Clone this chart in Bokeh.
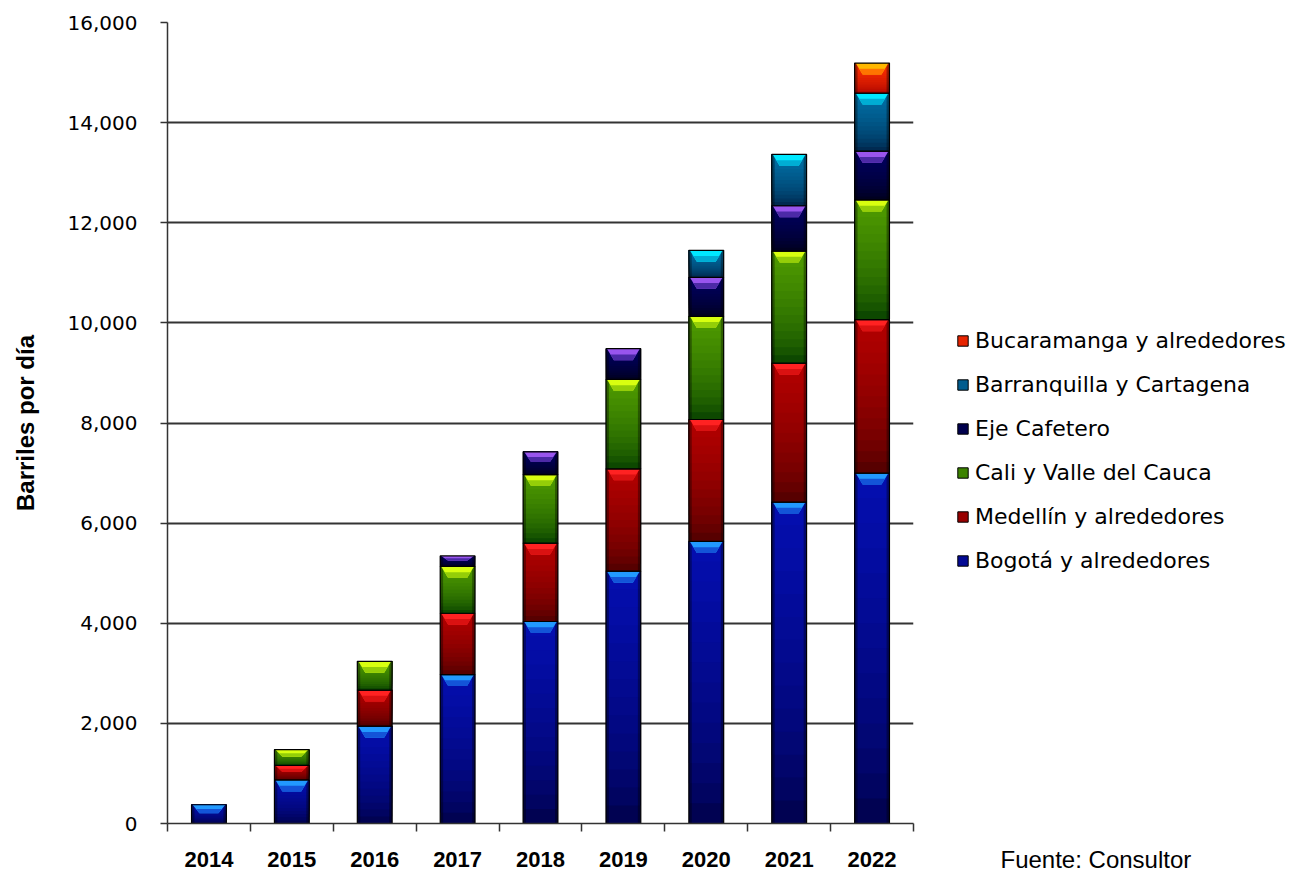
import numpy as np
from bokeh.plotting import figure
from bokeh.layouts import row
from bokeh.models import (FixedTicker, NumeralTickFormatter, Legend, LegendItem,
                          Label, ColumnDataSource, Range1d)
from bokeh.embed import file_html
from bokeh.resources import INLINE

# ---------------- data ----------------
years = ["2014", "2015", "2016", "2017", "2018", "2019", "2020", "2021", "2022"]
bogota       = [375, 870, 1945, 2975, 4035, 5040, 5635, 6420, 7000]
medellin     = [0, 290, 720, 1225, 1565, 2045, 2435, 2775, 3065]
cali         = [0, 315, 575, 935, 1370, 1785, 2060, 2240, 2390]
eje          = [0, 0, 0, 210, 455, 615, 780, 905, 975]
barranquilla = [0, 0, 0, 0, 0, 0, 540, 1025, 1160]
bucaramanga  = [0, 0, 0, 0, 0, 0, 0, 0, 600]

series_names = ["Bogotá y alrededores", "Medellín y alrededores", "Cali y Valle del Cauca",
                "Eje Cafetero", "Barranquilla y Cartagena", "Bucaramanga y alrededores"]
series_values = [bogota, medellin, cali, eje, barranquilla, bucaramanga]
y_ticks = list(range(0, 16001, 2000))
source_text = "Fuente: Consultor"

# (bottom colour, top colour, cap highlight colour)
series_colors = [
    ((0x00, 0x00, 0x40), (0x04, 0x0E, 0xB0), (0x22, 0x99, 0xFF)),
    ((0x45, 0x00, 0x00), (0xB4, 0x00, 0x00), (0xFF, 0x22, 0x22)),
    ((0x00, 0x38, 0x00), (0x50, 0x9C, 0x00), (0xD8, 0xFF, 0x10)),
    ((0x00, 0x00, 0x14), (0x00, 0x00, 0x60), (0x99, 0x55, 0xEE)),
    ((0x00, 0x1C, 0x40), (0x00, 0x72, 0xA8), (0x00, 0xE8, 0xFF)),
    ((0xA0, 0x00, 0x00), (0xFF, 0x30, 0x00), (0xFF, 0xB8, 0x00)),
]

def hexc(c):
    return "#%02x%02x%02x" % tuple(int(round(v)) for v in c)

def mix(a, b, t):
    return tuple(a[i] + (b[i] - a[i]) * t for i in range(3))

# ---------------- main figure ----------------
H = 875
PW = 930
p = figure(width=PW, height=H, output_backend="svg", toolbar_location=None,
           x_range=Range1d(0, 9), y_range=Range1d(0, 16000),
           min_border_left=167, min_border_right=17, min_border_top=22,
           min_border_bottom=52)
p.outline_line_color = None

xc = np.arange(len(years)) + 0.5
bw = 0.42
N = 14
edge = 0.035

bottoms = np.zeros(len(years))
for s, vals in enumerate(series_values):
    cb, ct, cl = series_colors[s]
    vals = np.array(vals, dtype=float)
    tops = bottoms + vals
    sx, st, sb, sc = [], [], [], []
    ox, ot, ob = [], [], []
    ex, cx, cy, cxs2, cys2 = [], [], [], [], []
    for i in range(len(years)):
        if vals[i] <= 0:
            continue
        b, t = bottoms[i], tops[i]
        for k in range(N):
            y0 = b + (t - b) * k / N
            f = ((k + 0.5) / N) ** 0.55
            sx.append(xc[i]); sb.append(y0); st.append(t); sc.append(hexc(mix(cb, ct, f)))
        ox.append(xc[i]); ob.append(b); ot.append(t)
        ex += [xc[i] - bw / 2 + edge / 2, xc[i] + bw / 2 - edge / 2]
        h = min(230.0, 0.45 * (t - b))
        x0, x1 = xc[i] - bw / 2 + 0.012, xc[i] + bw / 2 - 0.012
        ins = bw * 0.2
        cx.append([x0, x1, x1 - ins, x0 + ins])
        cy.append([t, t, t - h, t - h])
        cxs2.append([x0 + ins * 0.5, x1 - ins * 0.5, x1 - ins, x0 + ins])
        cys2.append([t - h * 0.5, t - h * 0.5, t - h, t - h])
    p.vbar(x="x", top="top", bottom="bottom", width=bw, fill_color="color", line_color=None,
           source=ColumnDataSource(dict(x=sx, top=st, bottom=sb, color=sc)))
    p.vbar(x=ex, top=np.repeat(ot, 2), bottom=np.repeat(ob, 2), width=edge,
           fill_color="black", fill_alpha=0.35, line_color=None)
    p.patches(xs=cx, ys=cy, fill_color=hexc(cl), line_color=None)
    p.patches(xs=cxs2, ys=cys2, fill_color=hexc(mix(cl, ct, 0.5)), line_color=None)
    p.vbar(x=ox, top=ot, bottom=ob, width=bw, fill_color=None, line_color="black", line_width=1.2)
    bottoms = tops

grid_col = "#333333"
p.yaxis.ticker = FixedTicker(ticks=y_ticks)
p.yaxis.formatter = NumeralTickFormatter(format="0,0")
p.yaxis.major_tick_out = 7
p.yaxis.major_tick_in = 0
p.yaxis.minor_tick_line_color = None
p.yaxis.major_tick_line_color = grid_col
p.yaxis.major_tick_line_width = 1.5
p.yaxis.axis_line_color = grid_col
p.yaxis.axis_line_width = 1.5
p.yaxis.major_label_standoff = 23
p.yaxis.major_label_text_font = "DejaVu Sans"
p.yaxis.major_label_text_font_size = "20px"
p.yaxis.major_label_text_color = "black"
p.yaxis.axis_label = "Barriles por día"
p.yaxis.axis_label_text_font = "Liberation Sans"
p.yaxis.axis_label_text_font_style = "bold"
p.yaxis.axis_label_text_font_size = "24px"
p.yaxis.axis_label_text_color = "black"
p.yaxis.axis_label_standoff = 26

p.xaxis.ticker = FixedTicker(ticks=list(xc), minor_ticks=list(range(0, len(years) + 1)))
p.xaxis.major_label_overrides = {float(x): y for x, y in zip(xc, years)}
p.xaxis.major_tick_line_color = None
p.xaxis.major_tick_out = 8
p.xaxis.major_tick_in = 0
p.xaxis.minor_tick_out = 8
p.xaxis.minor_tick_in = 0
p.xaxis.minor_tick_line_color = grid_col
p.xaxis.minor_tick_line_width = 1.5
p.xaxis.axis_line_color = grid_col
p.xaxis.axis_line_width = 1.5
p.xaxis.major_label_standoff = 20
p.xaxis.major_label_text_font = "Liberation Sans"
p.xaxis.major_label_text_font_style = "bold"
p.xaxis.major_label_text_font_size = "22px"
p.xaxis.major_label_text_line_height = 1.0
p.xaxis.major_label_text_color = "black"

p.xgrid.grid_line_color = None
p.ygrid.ticker = FixedTicker(ticks=y_ticks)
p.ygrid.grid_line_color = grid_col
p.ygrid.grid_line_width = 2

# ---------------- legend panel ----------------
LW = 1301 - PW
q = figure(width=LW, height=H, output_backend="svg", toolbar_location=None,
           x_axis_type=None, y_axis_type=None,
           x_range=Range1d(0, LW), y_range=Range1d(0, H),
           min_border=0, min_border_left=0, min_border_right=0,
           min_border_top=0, min_border_bottom=0)
q.grid.visible = False
q.outline_line_color = None
try:
    q.frame_align = False
except Exception:
    pass

legend_renderers = []
for s in range(len(series_names)):
    cb, ct, cl = series_colors[s]
    # placeholder glyph kept outside the visible range: only its legend swatch shows
    lr = q.vbar(x=[-1000], top=[-1000], bottom=[-1001], width=1,
                fill_color=hexc(mix(cb, ct, 0.75)), line_color="black", line_width=1)
    legend_renderers.append(lr)

items = [LegendItem(label=series_names[s], renderers=[legend_renderers[s]])
         for s in reversed(range(len(series_names)))]
legend = Legend(items=items, location=(26, 302), orientation="vertical",
                label_text_font="DejaVu Sans", label_text_font_size="22px",
                label_text_color="black", glyph_width=13, glyph_height=13,
                label_height=24, label_standoff=6, spacing=19, padding=0, margin=0,
                border_line_color=None, background_fill_alpha=0)
q.add_layout(legend)

q.add_layout(Label(x=70, y=H - 845, text=source_text, text_baseline="top",
                   text_font="Liberation Sans", text_font_size="24px", text_color="black"))

layout = row(p, q, spacing=0)
open("out.html", "w").write(file_html(layout, INLINE))
